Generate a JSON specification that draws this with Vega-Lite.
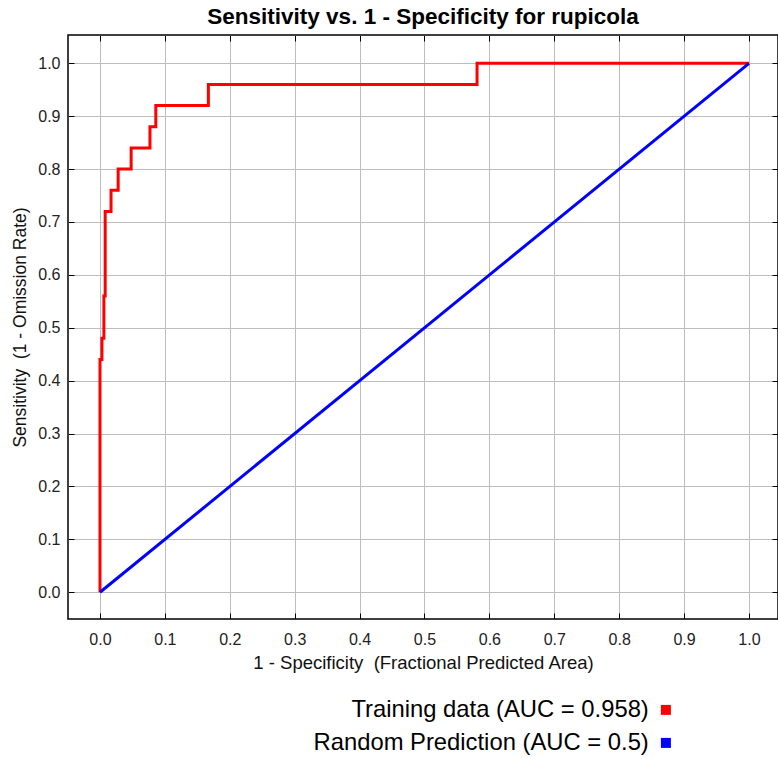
{
  "$schema": "https://vega.github.io/schema/vega-lite/v6.json",
  "autosize": "none",
  "width": 710,
  "height": 584,
  "padding": {"left": 68, "top": 35, "right": 0, "bottom": 139},
  "background": "#ffffff",
  "title": {
    "text": "Sensitivity vs. 1 - Specificity for rupicola",
    "font": "Liberation Sans",
    "fontSize": 22.5,
    "fontWeight": "bold",
    "color": "#000000",
    "anchor": "middle",
    "offset": 6
  },
  "config": {
    "view": {"stroke": "#000000", "strokeWidth": 1.5},
    "axis": {
      "labelFont": "Liberation Sans",
      "titleFont": "Liberation Sans",
      "labelFontSize": 16,
      "titleFontSize": 17.5,
      "labelColor": "#222222",
      "titleColor": "#111111",
      "titleFontWeight": "normal",
      "gridColor": "#bdbdbd",
      "gridWidth": 1,
      "gridOpacity": 1,
      "tickColor": "#000000",
      "tickWidth": 1,
      "domain": false
    },
    "legend": {
      "orient": "none",
      "legendX": 586,
      "legendY": 663,
      "direction": "vertical",
      "padding": 0,
      "symbolType": "square",
      "symbolSize": 100,
      "symbolStrokeWidth": 0,
      "labelFont": "Liberation Sans",
      "labelFontSize": 23.8,
      "labelColor": "#000000",
      "labelAlign": "right",
      "labelOffset": -29,
      "labelLimit": 0,
      "rowPadding": 8
    }
  },
  "data": {
    "values": [
      {"series": "Training data (AUC = 0.958)", "i": 0, "fpr": 0.0, "sens": 0.0},
      {"series": "Training data (AUC = 0.958)", "i": 1, "fpr": 0.0, "sens": 0.44},
      {"series": "Training data (AUC = 0.958)", "i": 2, "fpr": 0.003, "sens": 0.44},
      {"series": "Training data (AUC = 0.958)", "i": 3, "fpr": 0.003, "sens": 0.48},
      {"series": "Training data (AUC = 0.958)", "i": 4, "fpr": 0.006, "sens": 0.48},
      {"series": "Training data (AUC = 0.958)", "i": 5, "fpr": 0.006, "sens": 0.56},
      {"series": "Training data (AUC = 0.958)", "i": 6, "fpr": 0.008, "sens": 0.56},
      {"series": "Training data (AUC = 0.958)", "i": 7, "fpr": 0.008, "sens": 0.72},
      {"series": "Training data (AUC = 0.958)", "i": 8, "fpr": 0.017, "sens": 0.72},
      {"series": "Training data (AUC = 0.958)", "i": 9, "fpr": 0.017, "sens": 0.76},
      {"series": "Training data (AUC = 0.958)", "i": 10, "fpr": 0.028, "sens": 0.76},
      {"series": "Training data (AUC = 0.958)", "i": 11, "fpr": 0.028, "sens": 0.80},
      {"series": "Training data (AUC = 0.958)", "i": 12, "fpr": 0.048, "sens": 0.80},
      {"series": "Training data (AUC = 0.958)", "i": 13, "fpr": 0.048, "sens": 0.84},
      {"series": "Training data (AUC = 0.958)", "i": 14, "fpr": 0.077, "sens": 0.84},
      {"series": "Training data (AUC = 0.958)", "i": 15, "fpr": 0.077, "sens": 0.88},
      {"series": "Training data (AUC = 0.958)", "i": 16, "fpr": 0.086, "sens": 0.88},
      {"series": "Training data (AUC = 0.958)", "i": 17, "fpr": 0.086, "sens": 0.92},
      {"series": "Training data (AUC = 0.958)", "i": 18, "fpr": 0.167, "sens": 0.92},
      {"series": "Training data (AUC = 0.958)", "i": 19, "fpr": 0.167, "sens": 0.96},
      {"series": "Training data (AUC = 0.958)", "i": 20, "fpr": 0.581, "sens": 0.96},
      {"series": "Training data (AUC = 0.958)", "i": 21, "fpr": 0.581, "sens": 1.0},
      {"series": "Training data (AUC = 0.958)", "i": 22, "fpr": 1.0, "sens": 1.0},
      {"series": "Random Prediction (AUC = 0.5)", "i": 0, "fpr": 0.0, "sens": 0.0},
      {"series": "Random Prediction (AUC = 0.5)", "i": 1, "fpr": 1.0, "sens": 1.0}
    ]
  },
  "resolve": {"axis": {"x": "independent", "y": "independent"}},
  "layer": [
    {
      "transform": [{"filter": "datum.series === 'Training data (AUC = 0.958)'"}],
      "mark": {"type": "line", "strokeWidth": 3, "strokeJoin": "miter"},
      "encoding": {
        "x": {
          "field": "fpr", "type": "quantitative",
          "scale": {"domain": [-0.0493, 1.0447], "nice": false, "zero": false},
          "axis": {
            "orient": "bottom",
            "values": [0, 0.1, 0.2, 0.3, 0.4, 0.5, 0.6, 0.7, 0.8, 0.9, 1.0],
            "format": ".1f",
            "grid": true,
            "tickSize": -6,
            "labelPadding": 18,
            "title": "1 - Specificity \u00a0(Fractional Predicted Area)",
            "titleFontSize": 18.5,
            "titlePadding": 6
          }
        },
        "y": {
          "field": "sens", "type": "quantitative",
          "scale": {"domain": [-0.0505, 1.0535], "nice": false, "zero": false},
          "axis": {
            "orient": "left",
            "values": [0, 0.1, 0.2, 0.3, 0.4, 0.5, 0.6, 0.7, 0.8, 0.9, 1.0],
            "format": ".1f",
            "grid": true,
            "tickSize": -6,
            "labelPadding": 14,
            "title": "Sensitivity \u00a0(1 - Omission Rate)",
            "titlePadding": 8
          }
        },
        "order": {"field": "i", "type": "quantitative"},
        "color": {
          "field": "series", "type": "nominal",
          "scale": {
            "domain": ["Training data (AUC = 0.958)", "Random Prediction (AUC = 0.5)"],
            "range": ["#ff0000", "#0000ff"]
          },
          "legend": {
            "title": null,
            "encode": {
              "symbols": {
                "update": {
                  "fill": {"scale": "color", "field": "value"},
                  "stroke": {"value": "transparent"},
                  "shape": {"value": "square"}
                }
              }
            }
          }
        }
      }
    },
    {
      "transform": [{"filter": "datum.series === 'Random Prediction (AUC = 0.5)'"}],
      "mark": {"type": "line", "strokeWidth": 3},
      "encoding": {
        "x": {
          "field": "fpr", "type": "quantitative",
          "axis": {
            "orient": "top",
            "values": [0, 0.1, 0.2, 0.3, 0.4, 0.5, 0.6, 0.7, 0.8, 0.9, 1.0],
            "grid": false,
            "labels": false,
            "tickSize": -6,
            "title": null
          }
        },
        "y": {
          "field": "sens", "type": "quantitative",
          "axis": {
            "orient": "right",
            "values": [0, 0.1, 0.2, 0.3, 0.4, 0.5, 0.6, 0.7, 0.8, 0.9, 1.0],
            "grid": false,
            "labels": false,
            "tickSize": -6,
            "title": null
          }
        },
        "order": {"field": "i", "type": "quantitative"},
        "color": {"field": "series", "type": "nominal"}
      }
    }
  ]
}
